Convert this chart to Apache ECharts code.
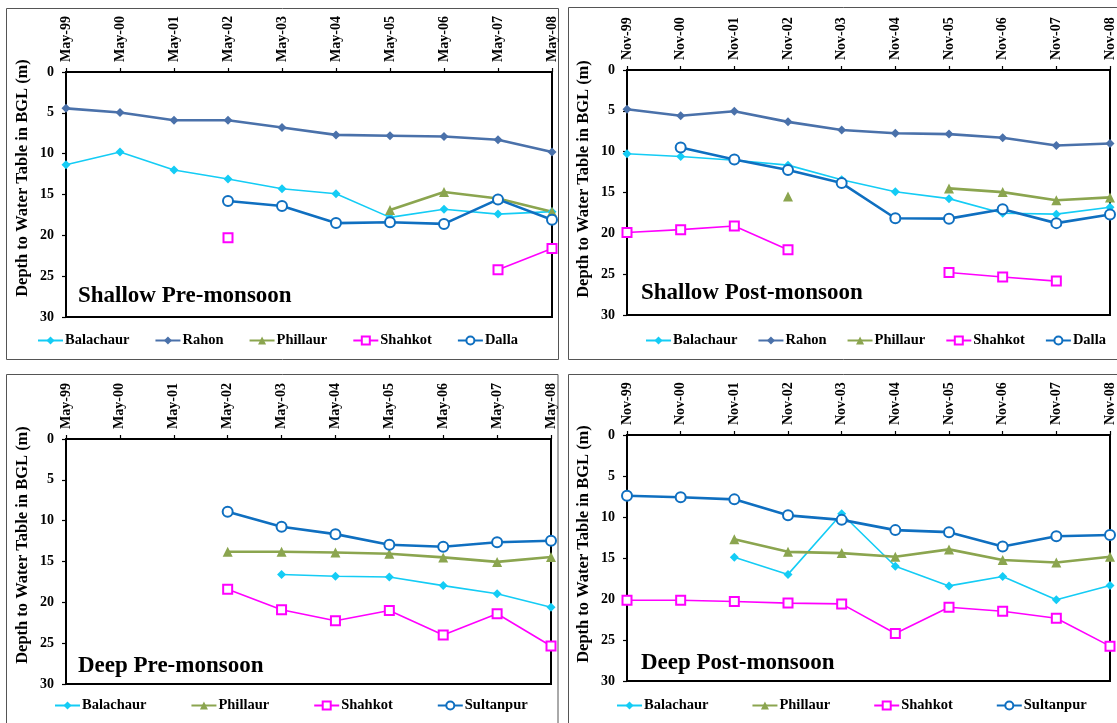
<!DOCTYPE html>
<html>
<head>
<meta charset="utf-8">
<script src="https://cdn.jsdelivr.net/npm/echarts@6/dist/echarts.min.js"></script>
<style>
html,body{margin:0;padding:0;background:#fff;}
#chart{width:1117px;height:723px;}
</style>
</head>
<body>
<div id="chart"></div>
<script>
// ---- Categories ----
var catPre = ['May-99','May-00','May-01','May-02','May-03','May-04','May-05','May-06','May-07','May-08'];
var catPost = ['Nov-99','Nov-00','Nov-01','Nov-02','Nov-03','Nov-04','Nov-05','Nov-06','Nov-07','Nov-08'];
var yTicks = [0, 5, 10, 15, 20, 25, 30];

// ---- Shallow Pre-monsoon ----
var spBalachaur = [11.35, 9.8, 12.0, 13.1, 14.3, 14.9, 17.8, 16.8, 17.4, 17.1];
var spRahon     = [4.45, 4.95, 5.9, 5.9, 6.8, 7.7, 7.8, 7.9, 8.3, 9.8];
var spPhillaur  = [null, null, null, null, null, null, 16.9, 14.7, 15.5, 17.1];
var spShahkot   = [null, null, null, 20.3, null, null, null, null, 24.2, 21.6];
var spDalla     = [null, null, null, 15.8, 16.4, 18.5, 18.4, 18.6, 15.6, 18.1];

// ---- Shallow Post-monsoon ----
var soBalachaur = [10.25, 10.6, 11.05, 11.65, 13.45, 14.9, 15.75, 17.55, 17.65, 16.8];
var soRahon     = [4.8, 5.6, 5.05, 6.35, 7.35, 7.75, 7.85, 8.3, 9.25, 9.0];
var soPhillaur  = [null, null, null, 15.5, null, null, 14.5, 14.95, 15.95, 15.6];
var soShahkot   = [19.9, 19.55, 19.1, 22.0, null, null, 24.8, 25.35, 25.85, null];
var soDalla     = [null, 9.5, 10.95, 12.25, 13.85, 18.15, 18.2, 17.05, 18.75, 17.7];

// ---- Deep Pre-monsoon ----
var dpBalachaur = [null, null, null, null, 16.6, 16.8, 16.9, 17.95, 18.95, 20.6];
var dpPhillaur  = [null, null, null, 13.8, 13.8, 13.9, 14.05, 14.5, 15.05, 14.45];
var dpShahkot   = [null, null, null, 18.4, 20.9, 22.25, 21.0, 24.0, 21.4, 25.35];
var dpSultanpur = [null, null, null, 8.9, 10.75, 11.65, 12.95, 13.2, 12.65, 12.45];

// ---- Deep Post-monsoon ----
var doBalachaur = [null, null, 14.9, 17.0, 9.6, 16.0, 18.4, 17.25, 20.1, 18.35];
var doPhillaur  = [null, null, 12.7, 14.25, 14.4, 14.85, 13.95, 15.25, 15.55, 14.85];
var doShahkot   = [20.15, 20.15, 20.3, 20.5, 20.6, 24.2, 21.0, 21.5, 22.35, 25.75];
var doSultanpur = [7.4, 7.6, 7.85, 9.8, 10.35, 11.6, 11.85, 13.6, 12.35, 12.2];

// ---- Text ----
var yName = 'Depth to Water Table in BGL (m)';
var panelTitles = ['Shallow Pre-monsoon', 'Shallow Post-monsoon', 'Deep Pre-monsoon', 'Deep Post-monsoon'];

var FONT = '"Liberation Serif", "Times New Roman", serif';
var COL = {
  Balachaur: '#14CCF5',
  Rahon: '#4A71AA',
  Phillaur: '#8BA54F',
  Shahkot: '#FF00FF',
  Dalla: '#0F6FC0',
  Sultanpur: '#0F6FC0'
};

function styleFor(name) {
  switch (name) {
    case 'Balachaur': return {symbol: 'diamond', symbolSize: 9, width: 1.6};
    case 'Rahon': return {symbol: 'diamond', symbolSize: 9, width: 2.6};
    case 'Phillaur': return {symbol: 'triangle', symbolSize: 10, width: 2.6};
    case 'Shahkot': return {symbol: 'emptyRect', symbolSize: 9, width: 1.6};
    default: return {symbol: 'emptyCircle', symbolSize: 10, width: 2.6};
  }
}

function mkSeries(name, data, idx) {
  var s = styleFor(name);
  var c = COL[name];
  var empty = s.symbol.indexOf('empty') === 0;
  return {
    type: 'line',
    name: name,
    data: data,
    xAxisIndex: idx,
    yAxisIndex: idx,
    symbol: s.symbol,
    symbolSize: s.symbolSize,
    showSymbol: true,
    showAllSymbol: true,
    connectNulls: false,
    animation: false,
    lineStyle: {color: c, width: s.width},
    itemStyle: {color: c, borderColor: c, borderWidth: empty ? (name === 'Shahkot' ? 1.6 : 2) : 0},
    emphasis: {disabled: true}
  };
}

var grids = [
  {left: 66, top: 72, width: 486, height: 245},
  {left: 627, top: 70, width: 485, height: 245},
  {left: 66, top: 439, width: 485, height: 245},
  {left: 627, top: 435, width: 485, height: 246}
];

function mkX(idx, cats) {
  return {
    type: 'category', gridIndex: idx, data: cats, position: 'top', boundaryGap: false,
    axisLine: {show: true, lineStyle: {color: '#000', width: 2}},
    axisTick: {show: true, inside: false, length: 4, alignWithLabel: true, interval: 0, lineStyle: {color: '#000', width: 1.2}},
    axisLabel: {interval: 0, rotate: 90, margin: 10, color: '#000', fontFamily: FONT, fontWeight: 'bold', fontSize: 14},
    splitLine: {show: false}
  };
}
function mkY(idx) {
  return {
    type: 'value', gridIndex: idx, inverse: true, min: yTicks[0], max: yTicks[yTicks.length - 1], interval: 5,
    axisLine: {show: true, lineStyle: {color: '#000', width: 2}},
    axisTick: {show: true, inside: false, length: 4, lineStyle: {color: '#000', width: 1.2}},
    axisLabel: {margin: 12, color: '#000', fontFamily: FONT, fontWeight: 'bold', fontSize: 14},
    splitLine: {show: false}
  };
}

function mkLegend(names, left, top, gap) {
  return {
    data: names, left: left, top: top, itemGap: gap, itemWidth: 25, itemHeight: 10, padding: 0,
    orient: 'horizontal', selectedMode: false,
    textStyle: {color: '#000', fontFamily: FONT, fontWeight: 'bold', fontSize: 14.5, padding: [0, 0, 0, -3]}
  };
}

var series = [];
series.push(mkSeries('Balachaur', spBalachaur, 0));
series.push(mkSeries('Rahon', spRahon, 0));
series.push(mkSeries('Phillaur', spPhillaur, 0));
series.push(mkSeries('Shahkot', spShahkot, 0));
series.push(mkSeries('Dalla', spDalla, 0));

series.push(mkSeries('Balachaur', soBalachaur, 1));
series.push(mkSeries('Rahon', soRahon, 1));
series.push(mkSeries('Phillaur', soPhillaur, 1));
series.push(mkSeries('Shahkot', soShahkot, 1));
series.push(mkSeries('Dalla', soDalla, 1));

series.push(mkSeries('Balachaur', dpBalachaur, 2));
series.push(mkSeries('Phillaur', dpPhillaur, 2));
series.push(mkSeries('Shahkot', dpShahkot, 2));
series.push(mkSeries('Sultanpur', dpSultanpur, 2));

series.push(mkSeries('Balachaur', doBalachaur, 3));
series.push(mkSeries('Phillaur', doPhillaur, 3));
series.push(mkSeries('Shahkot', doShahkot, 3));
series.push(mkSeries('Sultanpur', doSultanpur, 3));

function boxRect(x, y, w, h) {
  return {type: 'rect', shape: {x: x, y: y, width: w, height: h}, style: {fill: 'none', stroke: '#555', lineWidth: 1}, silent: true, z: -1};
}
function yTitle(x, y) {
  return {type: 'text', x: x, y: y, rotation: Math.PI / 2, silent: true,
    style: {text: yName, fill: '#000', fontFamily: FONT, fontWeight: 'bold', fontSize: 16.5, textAlign: 'center', textVerticalAlign: 'middle'}};
}
function pTitle(text, x, y) {
  return {type: 'text', x: x, y: y, silent: true, z: 10,
    style: {text: text, fill: '#000', fontFamily: FONT, fontWeight: 'bold', fontSize: 23, textAlign: 'left', textVerticalAlign: 'middle'}};
}

var option = {
  backgroundColor: '#fff',
  animation: false,
  grid: grids.map(function (g) { return Object.assign({show: true, borderColor: '#000', borderWidth: 2, backgroundColor: 'transparent', containLabel: false}, g); }),
  xAxis: [mkX(0, catPre), mkX(1, catPost), mkX(2, catPre), mkX(3, catPost)],
  yAxis: [mkY(0), mkY(1), mkY(2), mkY(3)],
  legend: [
    mkLegend(['Balachaur', 'Rahon', 'Phillaur', 'Shahkot', 'Dalla'], 37, 333, 25),
    mkLegend(['Balachaur', 'Rahon', 'Phillaur', 'Shahkot', 'Dalla'], 645, 333, 20),
    mkLegend(['Balachaur', 'Phillaur', 'Shahkot', 'Sultanpur'], 54, 698, 44),
    mkLegend(['Balachaur', 'Phillaur', 'Shahkot', 'Sultanpur'], 616, 698, 43)
  ],
  graphic: [
    boxRect(6.5, 8.5, 552, 351),
    boxRect(568.5, 7.5, 560, 352),
    boxRect(6.5, 374.5, 551.5, 360),
    boxRect(568.5, 374.5, 560, 360),
    yTitle(23, 178),
    yTitle(584, 179),
    yTitle(23, 545),
    yTitle(584, 544),
    pTitle(panelTitles[0], 78, 296),
    pTitle(panelTitles[1], 641, 293),
    pTitle(panelTitles[2], 78, 666),
    pTitle(panelTitles[3], 641, 663)
  ],
  series: series
};

var chart = echarts.init(document.getElementById('chart'), null, {renderer: 'canvas'});
chart.setOption(option);
</script>
</body>
</html>
